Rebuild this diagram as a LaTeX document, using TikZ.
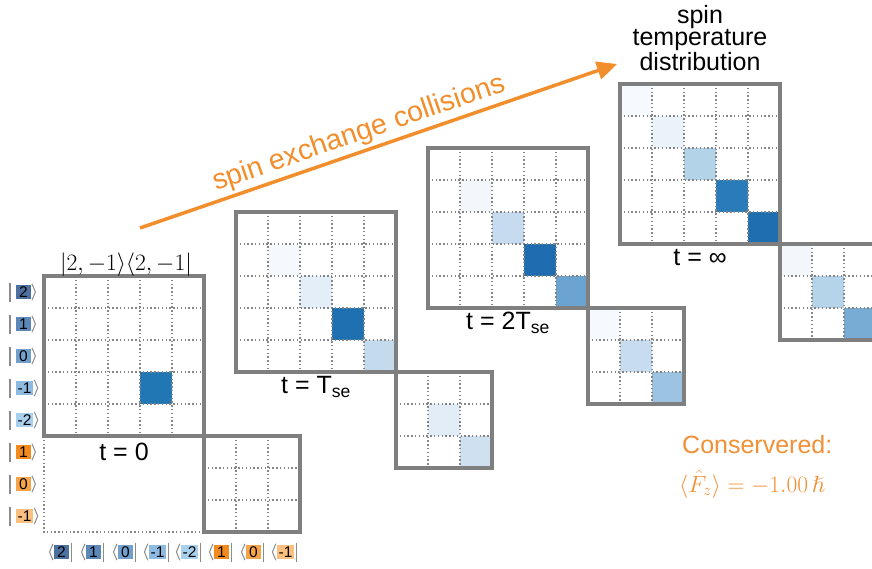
\RequirePackage{fix-cm}
\documentclass[tikz,border=0pt]{standalone}
\usepackage{amssymb}
\usepackage{fontspec}
\setmainfont{Liberation Sans}
\usetikzlibrary{arrows.meta}

\definecolor{framegray}{HTML}{7F7F7F}
\definecolor{dotgray}{HTML}{858585}
\definecolor{bargray}{HTML}{8C8C8C}
\definecolor{arrorange}{HTML}{F28E2B}
\definecolor{consorange}{HTML}{F29035}
\definecolor{kA}{HTML}{4C71A0}
\definecolor{kB}{HTML}{5B88B8}
\definecolor{kC}{HTML}{72A0CD}
\definecolor{kD}{HTML}{8CBAE1}
\definecolor{kE}{HTML}{A8CFEB}
\definecolor{oA}{HTML}{F28A1E}
\definecolor{oB}{HTML}{F7A448}
\definecolor{oC}{HTML}{FBBF80}

\newcommand{\mycell}[3]{\definecolor{tmpc}{HTML}{#3}\fill[tmpc] ({#2*32},{#1*32}) rectangle ++(32,32);}
\newcommand{\mysub}[3]{\definecolor{tmpc}{HTML}{#3}\fill[tmpc] ({160+#2*32},{160+#1*32}) rectangle ++(32,32);}
\newcommand{\matgrid}{%
  \foreach \i in {1,...,4} {
    \draw[dotline] ({32*\i},0) -- ({32*\i},160);
    \draw[dotline] (0,{32*\i}) -- (160,{32*\i});
  }
  \foreach \i in {1,2} {
    \draw[dotline] ({160+32*\i},160) -- ({160+32*\i},256);
    \draw[dotline] (160,{160+32*\i}) -- (256,{160+32*\i});
  }
  \draw[frame] (0,0) rectangle (160,160);
  \draw[frame] (160,160) rectangle (256,256);
}
\newcommand{\ketrow}[4]{%
  \node[ketbox, fill=#2, anchor=west] (#1) at (16,#4) {#3};
  \draw[bar] (10.3,{#4-9.5}) -- (10.3,{#4+9.5});
  \draw[angl] ([xshift=1.2pt,yshift=8pt]#1.east) -- ([xshift=4.5pt]#1.east) -- ([xshift=1.2pt,yshift=-8pt]#1.east);
}
\newcommand{\brarow}[4]{%
  \node[ketbox, fill=#2] (#1) at (#4,552) {#3};
  \draw[angl] ([xshift=-1.2pt,yshift=8pt]#1.west) -- ([xshift=-4.5pt]#1.west) -- ([xshift=-1.2pt,yshift=-8pt]#1.west);
  \draw[bar] ([xshift=2.5pt,yshift=9.5pt]#1.east) -- ([xshift=2.5pt,yshift=-9.5pt]#1.east);
}

\begin{document}
\begin{tikzpicture}[x=1pt,y=-1pt,
  frame/.style={draw=framegray, line width=3.2pt, line join=miter},
  dotline/.style={draw=dotgray, line width=1.3pt, dash pattern=on 1.3pt off 2.5pt},
  lab/.style={font=\fontsize{25}{25}\selectfont, inner sep=0pt},
  ketbox/.style={font=\fontsize{15.5}{15.5}\selectfont, inner xsep=1.5pt, inner ysep=0pt,
    minimum width=14.5pt, minimum height=14.5pt, text height=10.8pt, text depth=0pt},
  bar/.style={draw=bargray, line width=1.8pt},
  angl/.style={draw=bargray, line width=1pt, line join=round, line cap=round}]
\useasboundingbox (0,0) rectangle (872,568);
\fill[white] (0,0) rectangle (872,568);

% matrix t = 0
\begin{scope}[shift={(44,276)}]
  \mycell{3}{3}{2077B4}
  \draw[dotline] (0,160) -- (0,256) -- (160,256);
  \matgrid
  \node[lab, anchor=base] (l0) at (80,184) {t = 0};
\end{scope}

% matrix t = T_se
\begin{scope}[shift={(236,212)}]
  \mycell{1}{1}{F5F9FD}
  \mycell{2}{2}{E4EEF8}
  \mycell{3}{3}{1F70B0}
  \mycell{4}{4}{C4DBEE}
  \mysub{1}{1}{E3EDF7}
  \mysub{2}{2}{CFE1F1}
  \matgrid
  \node[lab, anchor=base] (l1) at (80,181.5) {t = T\textsubscript{se}};
\end{scope}

% matrix t = 2T_se
\begin{scope}[shift={(428,148)}]
  \mycell{1}{1}{F3F7FC}
  \mycell{2}{2}{C6DBEF}
  \mycell{3}{3}{1F6DB0}
  \mycell{4}{4}{6BA4D1}
  \mysub{0}{0}{F6F9FD}
  \mysub{1}{1}{C7DCEE}
  \mysub{2}{2}{9DC3E2}
  \matgrid
  \node[lab, anchor=base] (l2) at (80,181.5) {t = 2T\textsubscript{se}};
\end{scope}

% matrix t = infinity
\begin{scope}[shift={(620,84)}]
  \mycell{0}{0}{F6F9FD}
  \mycell{1}{1}{EAF2FA}
  \mycell{2}{2}{B3D3E8}
  \mycell{3}{3}{2A7BBA}
  \mycell{4}{4}{1F6FB0}
  \mysub{0}{0}{F3F7FB}
  \mysub{1}{1}{B5D4E9}
  \mysub{2}{2}{78ACD4}
  \matgrid
  \node[lab, anchor=base] (l3) at (80,181.5) {t = ∞};
\end{scope}

% state label
\node[font=\fontsize{23.5}{23.5}\selectfont, inner sep=0pt, anchor=base] (state) at (126,270) {$|2,-1\rangle\langle 2,-1|$};

% kets
\ketrow{k0}{kA}{2}{292}
\ketrow{k1}{kB}{1}{324}
\ketrow{k2}{kC}{0}{356}
\ketrow{k3}{kD}{-1}{388}
\ketrow{k4}{kE}{-2}{420}
\ketrow{k5}{oA}{1}{452}
\ketrow{k6}{oB}{0}{484}
\ketrow{k7}{oC}{-1}{516}

% bras
\brarow{b0}{kA}{2}{61.5}
\brarow{b1}{kB}{1}{93.5}
\brarow{b2}{kC}{0}{125.5}
\brarow{b3}{kD}{-1}{157.5}
\brarow{b4}{kE}{-2}{189.5}
\brarow{b5}{oA}{1}{221.5}
\brarow{b6}{oB}{0}{253.5}
\brarow{b7}{oC}{-1}{285.5}

% arrow
\coordinate (as) at (140,228);
\coordinate (ae) at (617,64);
\draw[arrorange, line width=3.5pt, -{Triangle[length=20pt,width=18pt]}] (as) -- (ae);
\node[font=\fontsize{28.5}{28.5}\selectfont, text=arrorange, rotate=18.97, inner sep=0pt] (sec) at (359,134) {spin exchange collisions};

% top right text
\node[font=\fontsize{25}{22.5}\selectfont, align=center, inner sep=0pt, anchor=north] (std) at (700,5) {spin\\temperature\\distribution};

% conserved
\node[lab, text=consorange, anchor=base west] (cons) at (682,453) {Conservered:};
\node[font=\fontsize{23.5}{23.5}\selectfont, text=consorange, inner sep=0pt, anchor=base west] (fz) at (679,492) {$\langle\hat{F}_z\rangle = -1.00\,\hslash$};
\end{tikzpicture}
\end{document}
